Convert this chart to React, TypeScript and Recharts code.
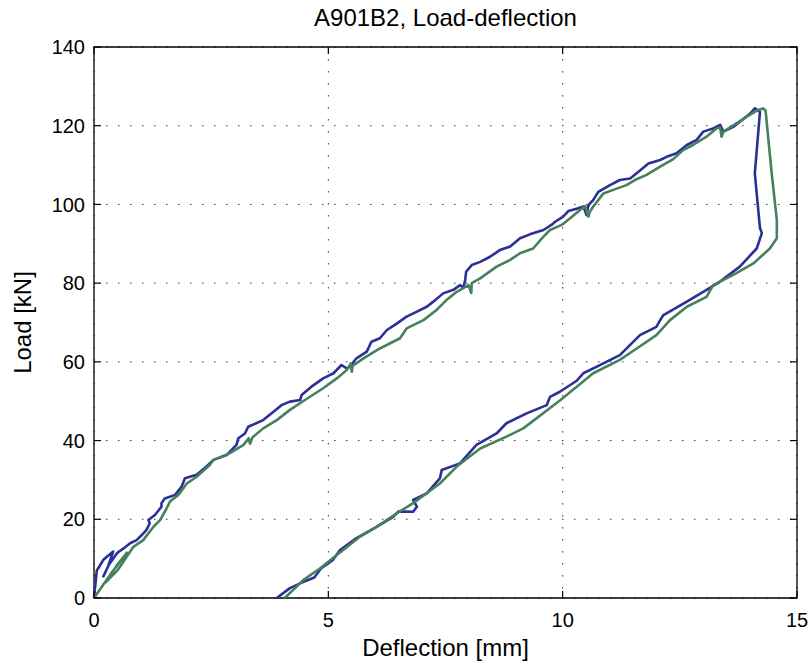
import React from "react";
import {
  LineChart,
  Line,
  XAxis,
  YAxis,
  CartesianGrid,
  ReferenceArea,
} from "recharts";

// ---- data ----
const xTicks = [0, 5, 10, 15];
const yTicks = [0, 20, 40, 60, 80, 100, 120, 140];

const blueDeflection = [
  0, 0.06, 0.2, 0.41, 0.3, 0.2, 0.32, 0.5, 0.63, 0.77, 0.91, 1.02, 1.12, 1.19, 1.16, 1.3, 1.44, 1.44, 1.51,
  1.73, 1.87, 1.94, 2.19, 2.4, 2.55, 2.83, 3.04, 3.08, 3.22, 3.29, 3.61, 3.83, 4.0, 4.18, 4.4, 4.43, 4.64,
  4.89, 5.11, 5.28, 5.4, 5.46, 5.6, 5.82, 5.92, 6.1, 6.25, 6.42, 6.67, 6.88, 7.1, 7.24, 7.45, 7.67, 7.81,
  7.88, 7.92, 7.94, 8.06, 8.24, 8.45, 8.66, 8.88, 9.09, 9.3, 9.59, 9.76, 9.84, 10.01, 10.12, 10.3, 10.44,
  10.51, 10.55, 10.65, 10.76, 11.01, 11.22, 11.44, 11.65, 11.83, 12.08, 12.22, 12.43, 12.65, 12.86, 13.0,
  13.21, 13.36, 13.43, 13.64, 13.82, 14.0, 14.1, 14.21,
  14.1, 14.21, 14.25, 14.14, 13.78, 13.36, 13.07, 12.65, 12.15, 12.08, 12.0, 11.65, 11.22, 10.73, 10.44,
  10.3, 9.94, 9.73, 9.66, 9.23, 8.8, 8.59, 8.16, 7.81, 7.42, 7.38, 7.1, 6.81, 6.89, 6.81, 6.5, 6.39, 6.03,
  5.6, 5.25, 5.1, 4.85, 4.7, 4.47, 4.18, 3.9,
];
const blueLoad = [
  0, 7, 9.7, 11.8, 8, 5.5, 8.5, 11.5, 12.6, 13.9, 14.7, 16, 17.3, 19, 19.8, 21.1, 23.2, 24.1, 25.3,
  26.2, 28.3, 30.4, 31.3, 33.4, 35.1, 36.3, 38.9, 40.6, 41.8, 43.5, 45.2, 47.3, 49, 49.9, 50.3, 51.6, 53.7,
  55.8, 57.1, 59.2, 58.3, 58.8, 60.9, 62.6, 65.1, 66, 68.1, 69.4, 71.5, 72.7, 74, 75.3, 77.4, 78.3, 79.5,
  78.8, 80.8, 82.9, 84.6, 85.4, 86.7, 88.4, 89.3, 91.4, 92.4, 93.5, 94.8, 95.6, 96.9, 98.3, 98.9, 99.5,
  97.3, 99.8, 101.1, 103.2, 104.9, 106.2, 106.6, 108.6, 110.4, 111.3, 112.1, 113, 115.1, 116.4, 118.5,
  119.3, 120.2, 118.5, 119.7, 121.4, 123.1, 124.4, 123.5,
  107.9, 94, 92.7, 88.8, 84.2, 80.4, 78.3, 75.3, 71.9, 70.6, 68.9, 66.8, 61.7, 58.8, 57.1,
  55.2, 52.4, 51.1, 49, 46.9, 44.4, 41.8, 38.9, 34.2, 32.5, 30.4, 26.6, 24.9, 23.2, 21.9, 22, 20.7, 18.1,
  15.2, 12.2, 9.7, 7.6, 5.2, 4.1, 2.5, 0,
];

const greenDeflection = [
  0, 0.35, 0.7, 0.5, 0.25, 0.5, 0.84, 1.05, 1.27, 1.41, 1.55, 1.62, 1.8, 1.98, 2.19, 2.47, 2.55, 2.9, 3.19,
  3.3, 3.33, 3.38, 3.61, 3.9, 4.18, 4.5, 4.89, 5.18, 5.39, 5.48, 5.5, 5.52, 5.75, 6.1, 6.53, 6.67, 7.03,
  7.31, 7.52, 7.74, 7.99, 8.05, 8.06, 8.24, 8.59, 8.88, 9.09, 9.37, 9.59, 9.73, 9.98, 10.16, 10.37, 10.48,
  10.55, 10.58, 10.65, 10.87, 11.08, 11.36, 11.54, 11.79, 12.08, 12.36, 12.57, 12.78, 13.07, 13.28, 13.36,
  13.39, 13.43, 13.71, 13.93, 14.17, 14.28, 14.33,
  14.46, 14.57, 14.57, 14.42, 14.07, 13.64, 13.21, 13.07, 12.65, 12.29, 12.0, 11.58, 11.22, 10.65, 10.3,
  9.94, 9.16, 8.8, 8.24, 7.74, 7.38, 6.81, 6.46, 6.03, 5.68, 5.18, 4.82, 4.47, 4.07,
];
const greenLoad = [
  0, 6, 11.5, 8.5, 4, 7, 13, 14.7, 18.1, 19.8, 22.8, 24.5, 26.2, 29.1, 30.8, 33.8, 35.1, 36.8, 38.9,
  40.6, 39.2, 40.8, 43.1, 45.2, 47.8, 50.3, 53.3, 55.8, 57.9, 59.6, 57.5, 59, 60.9, 63.4, 66, 68.5, 70.6,
  73.2, 75.7, 77.8, 79.5, 77.5, 80, 81.2, 84.2, 85.9, 87.6, 88.8, 91.8, 93.5, 94.8, 96.5, 98.6, 99.6,
  96.9, 98.1, 99.4, 102.8, 103.7, 104.9, 106.2, 107.5, 109.6, 111.5, 113.8, 115.1, 117.2, 119.3, 119.6,
  117.2, 118.5, 120.6, 122.3, 124, 124.4, 123.8,
  107.9, 96, 91.4, 88.8, 85, 82.1, 79.5, 76.5, 74, 70.6, 66.8, 63.4, 60.5, 57.1, 53.7,
  50.2, 43.1, 41, 38, 33.4, 29.1, 24.1, 21.5, 18.1, 15.6, 10.9, 7.5, 4.6, 0,
];

const blueData = blueDeflection.map((x, i) => ({ x, y: blueLoad[i] }));
const greenData = greenDeflection.map((x, i) => ({ x, y: greenLoad[i] }));

// ---- layout ----
const W = 811;
const H = 666;
const M_TOP = 47;
const M_RIGHT = 14;
const Y_AXIS_W = 94;
const X_AXIS_H = 68;
const PLOT_LEFT = Y_AXIS_W;
const PLOT_RIGHT = W - M_RIGHT;
const PLOT_TOP = M_TOP;
const PLOT_BOTTOM = H - X_AXIS_H;
const TICK_LEN = 7;
const FONT = "'Liberation Sans', Arial, Helvetica, sans-serif";
const FS = 20;
const LABEL_FS = 24;

const XTick = (props: any) => {
  const { x, payload } = props;
  return (
    <g>
      <line x1={x} x2={x} y1={PLOT_BOTTOM} y2={PLOT_BOTTOM - TICK_LEN} stroke="#000" strokeWidth={1.2} />
      <line x1={x} x2={x} y1={PLOT_TOP} y2={PLOT_TOP + TICK_LEN} stroke="#000" strokeWidth={1.2} />
      <text x={x} y={PLOT_BOTTOM + 15} dy="0.71em" textAnchor="middle" fontFamily={FONT} fontSize={FS} fill="#000">
        {payload.value}
      </text>
    </g>
  );
};

const YTick = (props: any) => {
  const { y, payload } = props;
  return (
    <g>
      <line x1={PLOT_LEFT} x2={PLOT_LEFT + TICK_LEN} y1={y} y2={y} stroke="#000" strokeWidth={1.2} />
      <line x1={PLOT_RIGHT - TICK_LEN} x2={PLOT_RIGHT} y1={y} y2={y} stroke="#000" strokeWidth={1.2} />
      <text x={PLOT_LEFT - 9} y={y} dy="0.36em" textAnchor="end" fontFamily={FONT} fontSize={FS} fill="#000">
        {payload.value}
      </text>
    </g>
  );
};

export default function App() {
  return (
    <div style={{ position: "absolute", left: 0, top: 0, width: W, height: H, background: "#fff" }}>
      <div
        style={{
          position: "absolute",
          left: 0,
          width: W,
          top: 4,
          textAlign: "center",
          paddingLeft: 80,
          boxSizing: "border-box",
          fontFamily: FONT,
          fontSize: LABEL_FS,
          lineHeight: "28px",
          color: "#000",
        }}
      >
        A901B2, Load-deflection
      </div>
      <LineChart
        width={W}
        height={H}
        margin={{ top: M_TOP, right: M_RIGHT, bottom: 0, left: 0 }}
      >
        <CartesianGrid stroke="#333" strokeWidth={1} strokeDasharray="1.5 10.5" />
        <XAxis
          type="number"
          dataKey="x"
          domain={[0, 15]}
          ticks={xTicks}
          height={X_AXIS_H}
          tick={<XTick />}
          tickLine={false}
          axisLine={false}
          allowDuplicatedCategory={false}
          label={{
            value: "Deflection [mm]",
            position: "insideBottom",
            offset: 10,
            style: { fontFamily: FONT, fontSize: LABEL_FS, fill: "#000" },
          }}
        />
        <YAxis
          type="number"
          dataKey="y"
          domain={[0, 140]}
          ticks={yTicks}
          width={Y_AXIS_W}
          tick={<YTick />}
          tickLine={false}
          axisLine={false}
          label={{
            value: "Load [kN]",
            angle: -90,
            position: "insideLeft",
            offset: 22,
            style: { textAnchor: "middle", fontFamily: FONT, fontSize: LABEL_FS, fill: "#000" },
          }}
        />
        <ReferenceArea x1={0} x2={15} y1={0} y2={140} fill="none" stroke="#000" strokeWidth={1.3} />
        <Line
          data={blueData}
          dataKey="y"
          type="linear"
          stroke="#2b2f96"
          strokeWidth={2.6}
          dot={false}
          isAnimationActive={false}
          strokeLinejoin="round"
        />
        <Line
          data={greenData}
          dataKey="y"
          type="linear"
          stroke="#46805c"
          strokeWidth={2.6}
          dot={false}
          isAnimationActive={false}
          strokeLinejoin="round"
        />
      </LineChart>
    </div>
  );
}
